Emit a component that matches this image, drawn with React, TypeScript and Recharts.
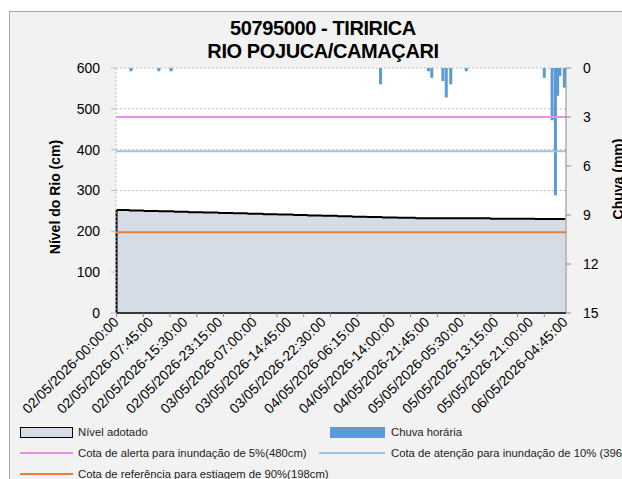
import React from "react";
import {
  ComposedChart,
  Area,
  Bar,
  XAxis,
  YAxis,
  CartesianGrid,
  ReferenceLine
} from "recharts";

// 15-minute series starting 02/05/2026 00:00
const firstDay = 2;
const stepMinutes = 15;
const slotCount = 404;

const tickLabels = [
  "02/05/2026-00:00:00",
  "02/05/2026-07:45:00",
  "02/05/2026-15:30:00",
  "02/05/2026-23:15:00",
  "03/05/2026-07:00:00",
  "03/05/2026-14:45:00",
  "03/05/2026-22:30:00",
  "04/05/2026-06:15:00",
  "04/05/2026-14:00:00",
  "04/05/2026-21:45:00",
  "05/05/2026-05:30:00",
  "05/05/2026-13:15:00",
  "05/05/2026-21:00:00",
  "06/05/2026-04:45:00"
];

// river level (cm): [value, number of 15-min readings]
const levelRuns: [number, number][] = [
  [252, 12], [251, 13], [250, 13], [249, 14], [248, 13],
  [247, 13], [246, 14], [245, 13], [244, 13], [243, 14],
  [242, 13], [241, 14], [240, 13], [239, 13], [238, 14],
  [237, 13], [236, 13], [235, 14], [234, 14], [233, 16],
  [232, 67], [231, 40], [230, 28]
];

// hourly rain (mm)
const rainTimes = [
  "02/05/2026-03:15:00",
  "02/05/2026-09:30:00",
  "02/05/2026-12:15:00",
  "04/05/2026-11:15:00",
  "04/05/2026-22:00:00",
  "04/05/2026-22:45:00",
  "05/05/2026-01:15:00",
  "05/05/2026-02:00:00",
  "05/05/2026-03:00:00",
  "05/05/2026-06:30:00",
  "06/05/2026-00:00:00",
  "06/05/2026-01:45:00",
  "06/05/2026-02:30:00",
  "06/05/2026-03:00:00",
  "06/05/2026-03:30:00",
  "06/05/2026-04:30:00"
];
const rainMm = [0.2, 0.2, 0.2, 1.0, 0.2, 0.6, 0.8, 1.8, 1.0, 0.2, 0.6, 3.2, 7.8, 1.7, 0.5, 1.2];

const thresholdValues = [480, 396, 198];
const thresholdNames = [
  "Cota de alerta para inundação de 5%(480cm)",
  "Cota de atenção para inundação de 10% (396cm)",
  "Cota de referência para estiagem de 90%(198cm)"
];
const thresholdColors = ["#ee8ee8", "#9dc3e6", "#ed7d31"];

const levelTicks = [0, 100, 200, 300, 400, 500, 600];
const rainTicks = [0, 3, 6, 9, 12, 15];

const pad = (n: number) => String(n).padStart(2, "0");
const slotLabel = (i: number) => {
  const m = i * stepMinutes;
  const day = firstDay + Math.floor(m / 1440);
  const r = m % 1440;
  return `${pad(day)}/05/2026-${pad(Math.floor(r / 60))}:${pad(r % 60)}:00`;
};

const levels = levelRuns.flatMap(([v, n]) => Array(n).fill(v) as number[]);
const data = Array.from({ length: slotCount }, (_, i) => {
  const time = slotLabel(i);
  const k = rainTimes.indexOf(time);
  return { time, level: levels[i], rain: k >= 0 ? rainMm[k] : null };
});

const TimeTick = (props: any) => {
  const { x, y, payload } = props;
  const i = payload.index;
  const showLabel = tickLabels.includes(payload.value);
  return (
    <g>
      {i % 24 === 0 && <line x1={x} y1={y} x2={x} y2={y + 4} stroke="#898989" />}
      {showLabel && (
        <text
          x={x + 3}
          y={y + 10}
          transform={`rotate(-45, ${x + 3}, ${y + 10})`}
          textAnchor="end"
          fontSize={14}
          fill="#000"
        >
          {payload.value}
        </text>
      )}
    </g>
  );
};

const RainBar = (props: any) => {
  const { x, y, width, height, fill } = props;
  if (!height) return null;
  const top = Math.min(y, y + height);
  return <rect x={x + width / 2 - 1.5} y={top} width={3} height={Math.abs(height)} fill={fill} />;
};

const axisTitle = (text: string, cx: number, cy: number) => (
  <div
    style={{
      position: "absolute",
      left: cx - 100,
      top: cy - 10,
      width: 200,
      height: 20,
      lineHeight: "20px",
      textAlign: "center",
      fontWeight: "bold",
      fontSize: 14,
      transform: "rotate(-90deg)",
      whiteSpace: "nowrap"
    }}
  >
    {text}
  </div>
);

const legendText: React.CSSProperties = {
  position: "absolute",
  fontSize: 11.3,
  lineHeight: "16px",
  whiteSpace: "nowrap",
  color: "#222"
};

export default function App() {
  return (
    <div style={{ position: "absolute", left: 0, top: 0, width: 622, height: 479, overflow: "hidden" }}>
      <div
        style={{
          position: "absolute",
          left: 9,
          top: 11,
          width: 640,
          height: 480,
          border: "1px solid #a6a6a6",
          background: "#f2f2f2",
          fontFamily: "'Liberation Sans', Arial, sans-serif"
        }}
      >
        <div
          style={{
            position: "absolute",
            left: 13,
            top: 5,
            width: 600,
            textAlign: "center",
            fontWeight: "bold",
            fontSize: 20,
            lineHeight: "23px",
            letterSpacing: -0.4
          }}
        >
          <div>50795000 - TIRIRICA</div>
          <div>RIO POJUCA/CAMAÇARI</div>
        </div>

        <div style={{ position: "absolute", left: 0, top: 0 }}>
          <ComposedChart
            width={612}
            height={411}
            data={data}
            margin={{ top: 56, right: 16, bottom: 0, left: 46 }}
            style={{ fontFamily: "'Liberation Sans', Arial, sans-serif" }}
          >
            <CartesianGrid
              yAxisId="left"
              vertical={false}
              stroke="#bfbfbf"
              strokeDasharray="2 2"
              fill="#ffffff"
              fillOpacity={1}
            />
            <XAxis
              dataKey="time"
              interval={0}
              height={110}
              tickSize={0}
              tickMargin={0}
              tickLine={false}
              axisLine={{ stroke: "#000", strokeWidth: 1.5 }}
              tick={<TimeTick />}
            />
            <YAxis
              yAxisId="left"
              domain={[0, 600]}
              ticks={levelTicks}
              width={60}
              tickSize={5}
              tickMargin={11}
              axisLine={{ stroke: "#bfbfbf", strokeDasharray: "2 2" }}
              tickLine={{ stroke: "#bfbfbf" }}
              tick={{ fill: "#000", fontSize: 14 }}
            />
            <YAxis
              yAxisId="right"
              orientation="right"
              reversed
              domain={[0, 15]}
              ticks={rainTicks}
              width={40}
              tickSize={5}
              tickMargin={12}
              axisLine={{ stroke: "#898989" }}
              tickLine={{ stroke: "#898989" }}
              tick={{ fill: "#000", fontSize: 14, textAnchor: "start" }}
            />
            <Area
              yAxisId="left"
              type="linear"
              dataKey="level"
              stroke="#000"
              strokeWidth={2}
              fill="#d6dce5"
              fillOpacity={1}
              dot={false}
              activeDot={false}
              isAnimationActive={false}
            />
            <ReferenceLine
              yAxisId="left"
              segment={[
                { x: data[0].time, y: 0 },
                { x: data[0].time, y: data[0].level }
              ]}
              stroke="#000"
              strokeWidth={2}
            />
            <Bar
              yAxisId="right"
              dataKey="rain"
              fill="#5b9bd5"
              shape={<RainBar />}
              isAnimationActive={false}
            />
            {thresholdValues.map((v, i) => (
              <ReferenceLine
                key={v}
                yAxisId="left"
                y={v}
                stroke={thresholdColors[i]}
                strokeWidth={2}
              />
            ))}
          </ComposedChart>
        </div>

        {axisTitle("Nível do Rio (cm)", 45, 185)}
        {axisTitle("Chuva (mm)", 608, 167)}

        {/* legend */}
        <div style={{ position: "absolute", left: 10, top: 415, width: 53, height: 11, background: "#d6dce5", border: "1.5px solid #000", boxSizing: "border-box" }} />
        <div style={{ ...legendText, left: 68, top: 412 }}>Nível adotado</div>
        <div style={{ position: "absolute", left: 320, top: 415, width: 55, height: 11, background: "#5b9bd5" }} />
        <div style={{ ...legendText, left: 381, top: 412 }}>Chuva horária</div>

        <div style={{ position: "absolute", left: 10, top: 440, width: 53, height: 2, background: thresholdColors[0] }} />
        <div style={{ ...legendText, left: 68, top: 433 }}>{thresholdNames[0]}</div>
        <div style={{ position: "absolute", left: 309, top: 440, width: 66, height: 2, background: thresholdColors[1] }} />
        <div style={{ ...legendText, left: 381, top: 433 }}>{thresholdNames[1]}</div>

        <div style={{ position: "absolute", left: 10, top: 461, width: 53, height: 2, background: thresholdColors[2] }} />
        <div style={{ ...legendText, left: 68, top: 454 }}>{thresholdNames[2]}</div>
      </div>
    </div>
  );
}
